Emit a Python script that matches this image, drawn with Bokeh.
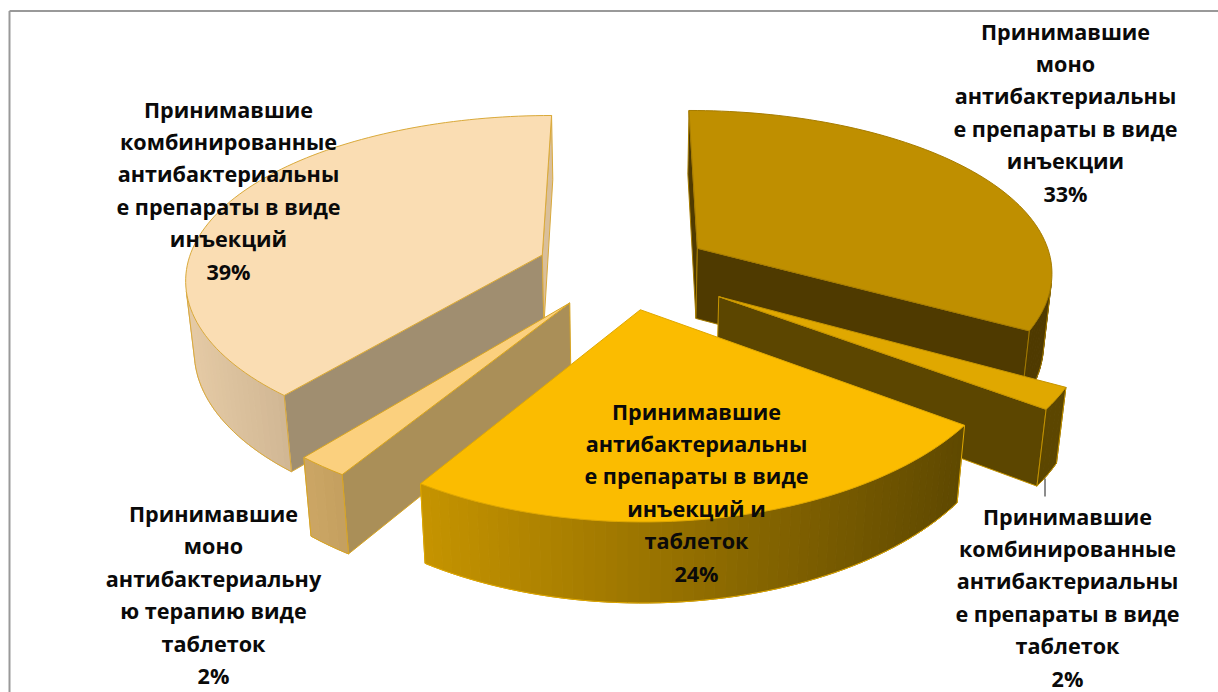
import math
from bokeh.plotting import figure
from bokeh.models import Range1d
from bokeh.core.properties import value
from bokeh.embed import file_html
from bokeh.resources import INLINE

# data
shares = [33, 2, 24, 2, 39]
percent_labels = ["33%", "2%", "24%", "2%", "39%"]
label_lines = [
    ["Принимавшие", "моно", "антибактериальны", "е препараты в виде", "инъекции"],
    ["Принимавшие", "комбинированные", "антибактериальны", "е препараты в виде", "таблеток"],
    ["Принимавшие", "антибактериальны", "е препараты в виде", "инъекций и", "таблеток"],
    ["Принимавшие", "моно", "антибактериальну", "ю терапию виде", "таблеток"],
    ["Принимавшие", "комбинированные", "антибактериальны", "е препараты в виде", "инъекций"],
]

# layout and style
explode = [0.245, 0.31, 0.245, 0.25, 0.245]
top_colors = ["#BF8F00", "#E0A800", "#FBBC00", "#FBD07E", "#FADDB3"]
end_wall_colors = ["#4F3A00", "#5C4600", "#5C4600", "#AA8F58", "#D9BF9B"]
start_wall_colors = ["#4F3A00", "#5C4600", "#5C4600", "#AA8F58", "#A08E70"]
outer_left = ["#4F3A00", "#5C4600", "#C69400", "#CDA765", "#E6CBA6"]
outer_right = ["#4F3A00", "#5C4600", "#5E4800", "#C39E5F", "#D0B693"]
edge_colors = ["#A67C00", "#C79500", "#E0A800", "#D9A520", "#D9A93A"]
label_x = [1065, 1067, 696, 213, 228]
label_y0 = [30.5, 515.5, 410.5, 513, 108.5]
line_h = 32.4
paint_order = [0, 4, 1, 3, 2]

W, H = 1218, 692
CX, CY, A, B, KX, K, M, DEPTH, KD = 623, 268, 356, 165, 0.13, 0.155, 0.02, 71, 0.1


def project(x, y, z):
    w = 1 + KX * y + M * z
    return CX + A * x / w, CY - B * y / (1 + K * y) + DEPTH * z / (1 + KD * y)


def mix(c1, c2, t):
    a = [int(c1[i:i + 2], 16) for i in (1, 3, 5)]
    b = [int(c2[i:i + 2], 16) for i in (1, 3, 5)]
    return "#%02X%02X%02X" % tuple(round(p + (q - p) * t) for p, q in zip(a, b))


def area(xs, ys):
    return sum(xs[i] * ys[(i + 1) % len(xs)] - xs[(i + 1) % len(xs)] * ys[i] for i in range(len(xs))) / 2


p = figure(width=W, height=H, x_range=Range1d(0, W), y_range=Range1d(H, 0),
           output_backend="svg", toolbar_location=None, min_border=0,
           background_fill_color="white", border_fill_color="white", outline_line_color=None)
p.xaxis.visible = False
p.yaxis.visible = False
p.grid.visible = False

# chart frame, open towards the page edges
p.line([9, 9], [H, 10.5], line_color="#999999", line_width=2)
p.line([9, W], [10.5, 10.5], line_color="#999999", line_width=2)


def draw_quad(pts, color, edge):
    xs = [q[0] for q in pts]
    ys = [q[1] for q in pts]
    p.patch(xs, ys, fill_color=color, line_color=edge, line_width=1)


start = 0.0
total = sum(shares)
slices = []
for i, s in enumerate(shares):
    sweep = 360.0 * s / total
    slices.append((i, start, start + sweep))
    start += sweep

for i in paint_order:
    _, a0, a1 = slices[i]
    mid = math.radians((a0 + a1) / 2)
    ox, oy = explode[i] * math.sin(mid), explode[i] * math.cos(mid)
    n = max(2, int((a1 - a0) / 1.5))
    angs = [math.radians(a0 + (a1 - a0) * j / n) for j in range(n + 1)]
    rim = [(ox + math.sin(t), oy + math.cos(t)) for t in angs]
    apex = (ox, oy)
    edge = edge_colors[i]

    # radial walls: each is drawn only when it faces the viewer
    for r, col, sign in ((rim[0], start_wall_colors[i], -1), (rim[-1], end_wall_colors[i], 1)):
        q = [project(*apex, 0), project(*r, 0), project(*r, 1), project(*apex, 1)]
        xs, ys = zip(*q)
        if area(xs, ys) * sign > 0:
            draw_quad(q, col, edge)

    # outer wall strips with a left to right colour ramp
    strips = []
    for j in range(n):
        q = [project(*rim[j], 0), project(*rim[j + 1], 0), project(*rim[j + 1], 1), project(*rim[j], 1)]
        xs, ys = zip(*q)
        if area(xs, ys) < 0:
            strips.append(q)
    if strips:
        all_x = [pt[0] for q in strips for pt in q]
        lo, hi = min(all_x), max(all_x)
        for q in strips:
            t = (sum(pt[0] for pt in q) / 4 - lo) / max(hi - lo, 1)
            c = mix(outer_left[i], outer_right[i], t)
            draw_quad(q, c, c)
        # rims of the wall
        bottom = [strips[0][3]] + [q[2] for q in strips]
        p.line([b[0] for b in bottom], [b[1] for b in bottom], line_color=edge, line_width=1)
        p.line([strips[0][0][0], strips[0][3][0]], [strips[0][0][1], strips[0][3][1]], line_color=edge, line_width=1)
        p.line([strips[-1][1][0], strips[-1][2][0]], [strips[-1][1][1], strips[-1][2][1]], line_color=edge, line_width=1)

    # top face
    top = [project(*apex, 0)] + [project(*r, 0) for r in rim]
    xs, ys = zip(*top)
    p.patch(list(xs), list(ys), fill_color=top_colors[i], line_color=edge, line_width=1)

# leader line of the small right-hand slice label
p.line([1044.5, 1044.5], [478, 496], line_color="#1A1A1A", line_width=1)

for i in range(5):
    lines = label_lines[i] + [percent_labels[i]]
    ys = [label_y0[i] + k * line_h for k in range(len(lines))]
    p.text(x=[label_x[i]] * len(lines), y=ys, text=lines, text_align="center", text_baseline="middle",
           text_font=value("Open Sans"), text_font_style="bold", text_font_size="21.6px", text_color="#0A0A0A")

open("out.html", "w").write(file_html(p, INLINE))
